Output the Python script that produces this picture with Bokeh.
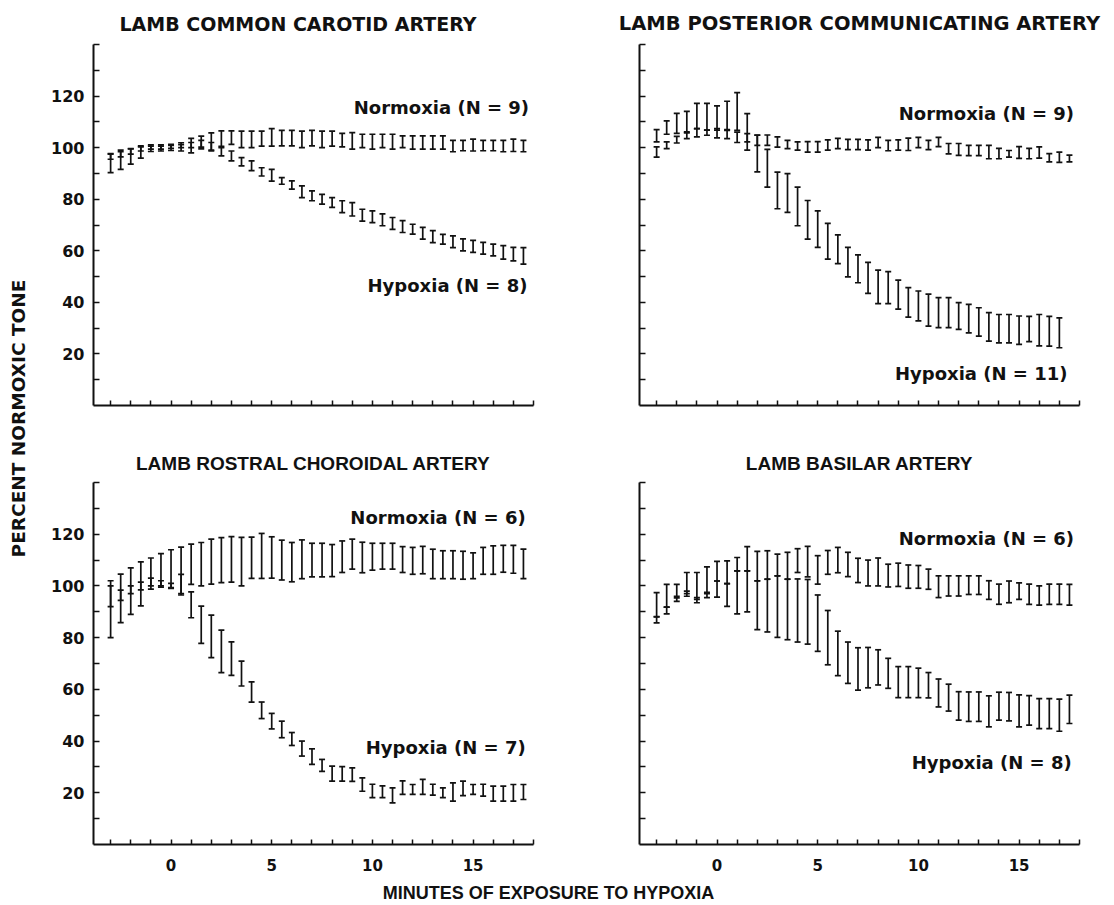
import math
from bokeh.plotting import figure
from bokeh.models import Range1d, FixedTicker, Whisker, TeeHead, ColumnDataSource, Label
from bokeh.layouts import row, column
from bokeh.embed import file_html
from bokeh.resources import INLINE

# ---------------- data ----------------
minutes = [-3.0, -2.5, -2.0, -1.5, -1.0, -0.5, 0.0, 0.5, 1.0, 1.5,
           2.0, 2.5, 3.0, 3.5, 4.0, 4.5, 5.0, 5.5, 6.0, 6.5,
           7.0, 7.5, 8.0, 8.5, 9.0, 9.5, 10.0, 10.5, 11.0, 11.5,
           12.0, 12.5, 13.0, 13.5, 14.0, 14.5, 15.0, 15.5, 16.0, 16.5,
           17.0, 17.5]

panel_titles = ["LAMB COMMON CAROTID ARTERY", "LAMB POSTERIOR COMMUNICATING ARTERY",
                "LAMB ROSTRAL CHOROIDAL ARTERY", "LAMB BASILAR ARTERY"]
normoxia_labels = ["Normoxia (N = 9)", "Normoxia (N = 9)", "Normoxia (N = 6)", "Normoxia (N = 6)"]
hypoxia_labels = ["Hypoxia (N = 8)", "Hypoxia (N = 11)", "Hypoxia (N = 7)", "Hypoxia (N = 8)"]

y_tick_labels = [20, 40, 60, 80, 100, 120]
y_minor_ticks = [10, 30, 50, 70, 90, 110, 130, 140]
x_tick_labels = [0, 5, 10, 15]
x_minor_ticks = [-3, -2, -1, 1, 2, 3, 4, 6, 7, 8, 9, 11, 12, 13, 14, 16, 17, 18]

# Common carotid
cca_norm_mean = [94.0, 95.3, 96.6, 98.3, 99.8, 99.9, 100.1, 100.3, 100.8, 102.0,
                 102.2, 103.5, 103.9, 103.2, 103.2, 103.5, 104.0, 103.7, 103.7, 103.2,
                 103.7, 103.2, 103.5, 102.9, 102.6, 102.6, 102.3, 102.6, 102.3, 102.3,
                 102.0, 102.0, 102.0, 102.0, 100.6, 100.8, 101.0, 100.8, 100.8, 100.6,
                 100.9, 100.6]
cca_norm_sem = [3.7, 3.7, 3.0, 2.4, 1.3, 1.2, 1.2, 1.6, 2.8, 2.5,
                3.5, 3.0, 2.6, 3.2, 3.2, 2.9, 3.4, 3.0, 3.0, 3.2,
                3.0, 3.2, 2.9, 2.6, 3.2, 2.6, 2.9, 2.6, 2.9, 2.3,
                2.6, 2.6, 2.6, 2.6, 2.2, 2.0, 2.3, 2.0, 2.0, 2.2,
                2.4, 2.2]
cca_hyp_mean = [96.5, 97.4, 98.5, 99.5, 100.0, 100.0, 100.3, 100.6, 101.0, 101.5,
                100.5, 98.4, 96.8, 94.5, 93.0, 90.6, 89.3, 87.1, 85.5, 82.9,
                81.3, 80.0, 78.7, 77.1, 76.1, 73.8, 73.2, 72.0, 70.6, 69.4,
                68.4, 66.8, 65.5, 64.5, 63.5, 62.3, 61.7, 61.0, 60.3, 59.4,
                58.7, 58.0]
cca_hyp_sem = [1.0, 1.0, 1.0, 0.8, 0.6, 0.6, 0.6, 0.6, 1.0, 1.3,
               1.5, 1.6, 1.9, 1.6, 1.9, 1.6, 2.3, 1.3, 1.6, 2.3,
               1.9, 1.9, 1.9, 2.3, 2.6, 2.3, 2.3, 2.3, 2.3, 2.3,
               1.9, 2.3, 2.3, 1.9, 2.3, 2.3, 2.3, 2.3, 2.3, 2.6,
               2.6, 3.2]

# Posterior communicating
pcoa_norm_mean = [98.3, 100.9, 103.1, 104.6, 105.8, 105.8, 105.6, 105.1, 104.0, 102.2,
                  102.9, 102.9, 102.2, 101.2, 100.6, 100.3, 100.3, 101.0, 101.6, 101.2,
                  101.2, 101.0, 102.0, 100.8, 101.0, 101.3, 102.0, 101.0, 102.2, 99.6,
                  99.3, 98.9, 98.9, 98.3, 97.7, 97.6, 98.1, 97.7, 98.1, 96.1,
                  96.3, 95.8]
pcoa_norm_sem = [2.0, 1.3, 1.3, 1.1, 1.6, 1.0, 1.8, 1.6, 2.0, 3.2,
                 2.0, 2.0, 2.0, 1.6, 1.6, 2.0, 2.0, 2.0, 2.0, 2.0,
                 2.0, 2.0, 2.0, 2.0, 2.0, 2.4, 2.0, 1.8, 1.8, 2.0,
                 2.3, 2.0, 2.0, 2.6, 2.0, 1.3, 2.3, 2.0, 2.2, 1.6,
                 2.0, 1.3]
pcoa_hyp_mean = [104.6, 107.8, 109.4, 110.1, 112.3, 112.0, 111.5, 112.5, 114.0, 107.7,
                 97.7, 92.0, 83.4, 82.4, 77.2, 72.0, 68.4, 63.7, 60.6, 55.6,
                 53.0, 49.5, 46.0, 45.7, 43.0, 40.0, 38.6, 37.0, 36.0, 36.0,
                 34.7, 33.7, 32.4, 30.5, 29.8, 29.8, 29.2, 29.7, 29.2, 28.8,
                 28.2]
pcoa_hyp_sem = [2.4, 2.6, 3.9, 4.0, 4.9, 5.2, 4.7, 5.5, 7.3, 5.5,
                7.1, 7.3, 7.1, 7.5, 7.5, 7.5, 7.1, 6.9, 5.6, 5.7,
                5.4, 6.0, 6.5, 6.2, 5.6, 5.7, 5.8, 6.2, 5.8, 5.8,
                5.2, 5.5, 5.5, 5.5, 5.5, 5.5, 5.5, 4.9, 6.1, 5.8,
                5.8]

# Rostral choroidal
rcha_norm_mean = [91.0, 95.2, 98.0, 100.8, 104.8, 106.0, 106.7, 106.0, 108.4, 108.4,
                  109.4, 110.0, 110.3, 109.4, 110.9, 111.6, 111.0, 110.0, 109.2, 110.3,
                  110.0, 110.0, 109.8, 111.3, 112.3, 111.0, 111.3, 111.5, 111.5, 110.2,
                  109.7, 110.0, 108.5, 108.2, 108.2, 108.0, 107.8, 109.7, 110.0, 110.5,
                  110.3, 108.5]
rcha_norm_sem = [11.0, 9.4, 9.0, 8.5, 6.0, 6.5, 7.3, 9.0, 7.8, 8.4,
                 8.7, 8.7, 8.8, 9.4, 8.0, 8.7, 8.0, 7.7, 7.6, 7.5,
                 6.5, 6.5, 6.2, 6.1, 5.8, 5.9, 5.2, 5.0, 5.0, 5.0,
                 5.2, 5.3, 5.7, 5.4, 5.4, 5.4, 5.0, 5.2, 5.5, 5.2,
                 5.4, 5.7]
rcha_hyp_mean = [96.0, 96.4, 98.5, 100.0, 101.5, 101.0, 100.0, 100.5, 92.7, 85.0,
                 80.5, 74.7, 71.9, 66.1, 59.0, 51.9, 47.7, 44.5, 40.8, 37.1,
                 34.0, 30.6, 27.4, 27.3, 27.0, 23.2, 20.7, 20.4, 19.0, 22.0,
                 21.3, 22.3, 21.2, 20.0, 20.3, 21.7, 21.3, 21.0, 19.7, 19.7,
                 20.0, 20.3]
rcha_hyp_sem = [4.0, 2.0, 1.5, 1.5, 1.5, 1.0, 1.0, 4.0, 5.0, 7.2,
                8.2, 8.2, 6.5, 4.8, 3.9, 3.2, 3.0, 3.2, 2.5, 2.9,
                3.0, 2.3, 2.9, 2.8, 2.6, 2.6, 2.6, 2.3, 2.9, 2.6,
                1.9, 2.9, 2.1, 1.9, 3.5, 2.8, 1.9, 2.3, 2.9, 2.9,
                3.2, 2.9]

# Basilar
ba_norm_mean = [92.7, 96.2, 98.0, 101.1, 100.0, 102.2, 105.7, 105.3, 108.4, 110.5,
                107.7, 108.1, 108.1, 107.8, 109.8, 109.4, 106.2, 109.1, 110.0, 108.3,
                106.0, 105.0, 105.4, 104.0, 104.3, 103.6, 103.5, 102.6, 99.7, 100.0,
                100.0, 100.3, 100.3, 98.4, 96.8, 97.7, 98.0, 96.8, 96.3, 96.8,
                96.8, 96.6]
ba_norm_sem = [4.7, 4.4, 2.6, 4.1, 5.2, 5.2, 3.8, 4.4, 2.6, 4.7,
               5.7, 5.5, 4.2, 5.2, 4.6, 5.9, 5.5, 4.6, 4.9, 4.7,
               4.7, 5.0, 5.4, 4.4, 4.5, 4.5, 4.4, 3.9, 4.2, 3.9,
               3.9, 3.6, 3.6, 3.6, 3.9, 4.2, 3.2, 3.9, 3.7, 3.9,
               3.9, 4.0]
ba_hyp_mean = [86.9, 90.5, 95.0, 97.0, 94.5, 96.5, 98.8, 96.5, 97.5, 97.9,
               92.5, 92.4, 92.0, 90.9, 90.5, 90.0, 85.6, 80.0, 73.9, 70.3,
               67.9, 68.4, 68.5, 66.2, 62.8, 62.8, 62.5, 61.6, 58.6, 56.8,
               53.6, 53.3, 53.3, 51.5, 53.5, 53.3, 51.7, 51.9, 50.6, 50.6,
               50.0, 52.3]
ba_hyp_sem = [1.2, 1.3, 1.0, 1.0, 1.0, 1.0, 3.1, 4.4, 8.3, 7.9,
              9.4, 10.2, 11.9, 11.7, 12.2, 12.5, 10.9, 10.5, 8.6, 8.0,
              8.2, 7.8, 6.8, 5.8, 6.0, 6.0, 5.7, 4.9, 5.4, 5.2,
              5.5, 5.7, 5.7, 6.0, 5.4, 5.5, 6.2, 5.7, 5.8, 5.8,
              6.2, 5.5]

# ---------------- styling / layout ----------------
X_RANGE = (-3.85, 18.0)
Y_RANGE = (0, 140)
INK = "#111111"
WIDE = "DejaVu Sans"
NARROW = "Liberation Sans"


def add_series(p, mean, sem):
    xs = minutes[:len(mean)]
    src = ColumnDataSource(dict(
        x=xs,
        upper=[m + s for m, s in zip(mean, sem)],
        lower=[m - s for m, s in zip(mean, sem)],
    ))
    w = Whisker(source=src, base="x", upper="upper", lower="lower", dimension="height",
                line_color=INK, line_width=1.7,
                upper_head=TeeHead(size=6, line_color=INK, line_width=1.7),
                lower_head=TeeHead(size=6, line_color=INK, line_width=1.7))
    p.add_layout(w)


def make_panel(title, title_font, title_size, title_standoff, title_align, title_offset,
               series, labels, x_labels, y_labels, width, height, mb):
    p = figure(width=width, height=height, x_range=Range1d(*X_RANGE), y_range=Range1d(*Y_RANGE),
               output_backend="svg", toolbar_location=None,
               min_border_left=mb[0], min_border_right=mb[1],
               min_border_top=mb[2], min_border_bottom=mb[3])
    p.title.text = title
    p.title.align = title_align
    p.title.text_font = title_font
    p.title.text_font_style = "bold"
    p.title.text_font_size = title_size
    p.title.text_color = INK
    p.title.standoff = title_standoff
    p.title.offset = title_offset
    p.outline_line_color = None
    p.grid.visible = False
    p.background_fill_color = "white"
    p.border_fill_color = "white"

    for ax in (p.xaxis[0], p.yaxis[0]):
        ax.axis_line_color = INK
        ax.axis_line_width = 2
        ax.major_tick_line_color = INK
        ax.minor_tick_line_color = INK
        ax.major_tick_line_width = 1.5
        ax.minor_tick_line_width = 1.5
        ax.major_tick_out = 0
        ax.minor_tick_out = 0
        ax.major_label_text_font = WIDE
        ax.major_label_text_font_style = "bold"
        ax.major_label_text_color = INK

    xa = p.xaxis[0]
    xa.major_tick_in = 5
    xa.minor_tick_in = 5
    xa.major_label_text_font_size = "15px"
    xa.major_label_standoff = 14
    if x_labels:
        xa.ticker = FixedTicker(ticks=x_tick_labels, minor_ticks=x_minor_ticks)
    else:
        xa.ticker = FixedTicker(ticks=[], minor_ticks=x_tick_labels + x_minor_ticks)

    ya = p.yaxis[0]
    ya.major_tick_in = 6
    ya.minor_tick_in = 6
    ya.major_label_text_font_size = "16px"
    ya.major_label_standoff = 9
    if y_labels:
        ya.ticker = FixedTicker(ticks=y_tick_labels, minor_ticks=y_minor_ticks)
    else:
        ya.ticker = FixedTicker(ticks=[], minor_ticks=y_tick_labels + y_minor_ticks)

    for mean, sem in series:
        add_series(p, mean, sem)

    for (lx, ly, txt) in labels:
        p.add_layout(Label(x=lx, y=ly, text=txt, text_align="right", text_baseline="middle",
                           text_font=WIDE, text_font_style="bold", text_font_size="18px",
                           text_color=INK))
    return p


LEFT_W, RIGHT_W = 520, 554
TOP_H, BOT_H = 441, 435
mb_left_top = (53, 27, 43, 36)
mb_right_top = (79, 35, 43, 36)
mb_left_bot = (53, 27, 41, 32)
mb_right_bot = (79, 35, 41, 32)

p1 = make_panel(panel_titles[0], WIDE, "19px", 19, "left", 26,
                [(cca_norm_mean, cca_norm_sem), (cca_hyp_mean, cca_hyp_sem)],
                [(17.78, 115.4, normoxia_labels[0]), (17.7, 46.4, hypoxia_labels[0])],
                False, True, LEFT_W, TOP_H, mb_left_top)
p2 = make_panel(panel_titles[1], WIDE, "19.5px", 19, "center", 0,
                [(pcoa_norm_mean, pcoa_norm_sem), (pcoa_hyp_mean, pcoa_hyp_sem)],
                [(17.73, 113.4, normoxia_labels[1]), (17.4, 12.3, hypoxia_labels[1])],
                False, False, RIGHT_W, TOP_H, mb_right_top)
p3 = make_panel(panel_titles[2], NARROW, "19px", 17, "center", 0,
                [(rcha_norm_mean, rcha_norm_sem), (rcha_hyp_mean, rcha_hyp_sem)],
                [(17.61, 126.3, normoxia_labels[2]), (17.61, 37.4, hypoxia_labels[2])],
                True, True, LEFT_W, BOT_H, mb_left_bot)
p4 = make_panel(panel_titles[3], NARROW, "19px", 17, "center", 0,
                [(ba_norm_mean, ba_norm_sem), (ba_hyp_mean, ba_hyp_sem)],
                [(17.73, 118.3, normoxia_labels[3]), (17.61, 31.8, hypoxia_labels[3])],
                True, False, RIGHT_W, BOT_H, mb_right_bot)


def text_strip(width, height):
    f = figure(width=width, height=height, x_range=Range1d(0, width), y_range=Range1d(0, height),
               output_backend="svg", toolbar_location=None,
               x_axis_location=None, y_axis_location=None, min_border=0)
    f.outline_line_color = None
    f.grid.visible = False
    return f


ylab = text_strip(40, 905)
ylab.add_layout(Label(x=18, y=905 - 418, text="PERCENT NORMOXIC TONE", angle=math.pi / 2,
                      text_align="center", text_baseline="middle", text_font=WIDE,
                      text_font_style="bold", text_font_size="18.5px", text_color=INK))

xlab = text_strip(1074, 29)
xlab.add_layout(Label(x=548 - 40, y=13, text="MINUTES OF EXPOSURE TO HYPOXIA",
                      text_align="center", text_baseline="middle", text_font=NARROW,
                      text_font_style="bold", text_font_size="18px", text_color=INK))

layout = row(ylab, column(row(p1, p2), row(p3, p4), xlab))

open("out.html", "w").write(file_html(layout, INLINE))
